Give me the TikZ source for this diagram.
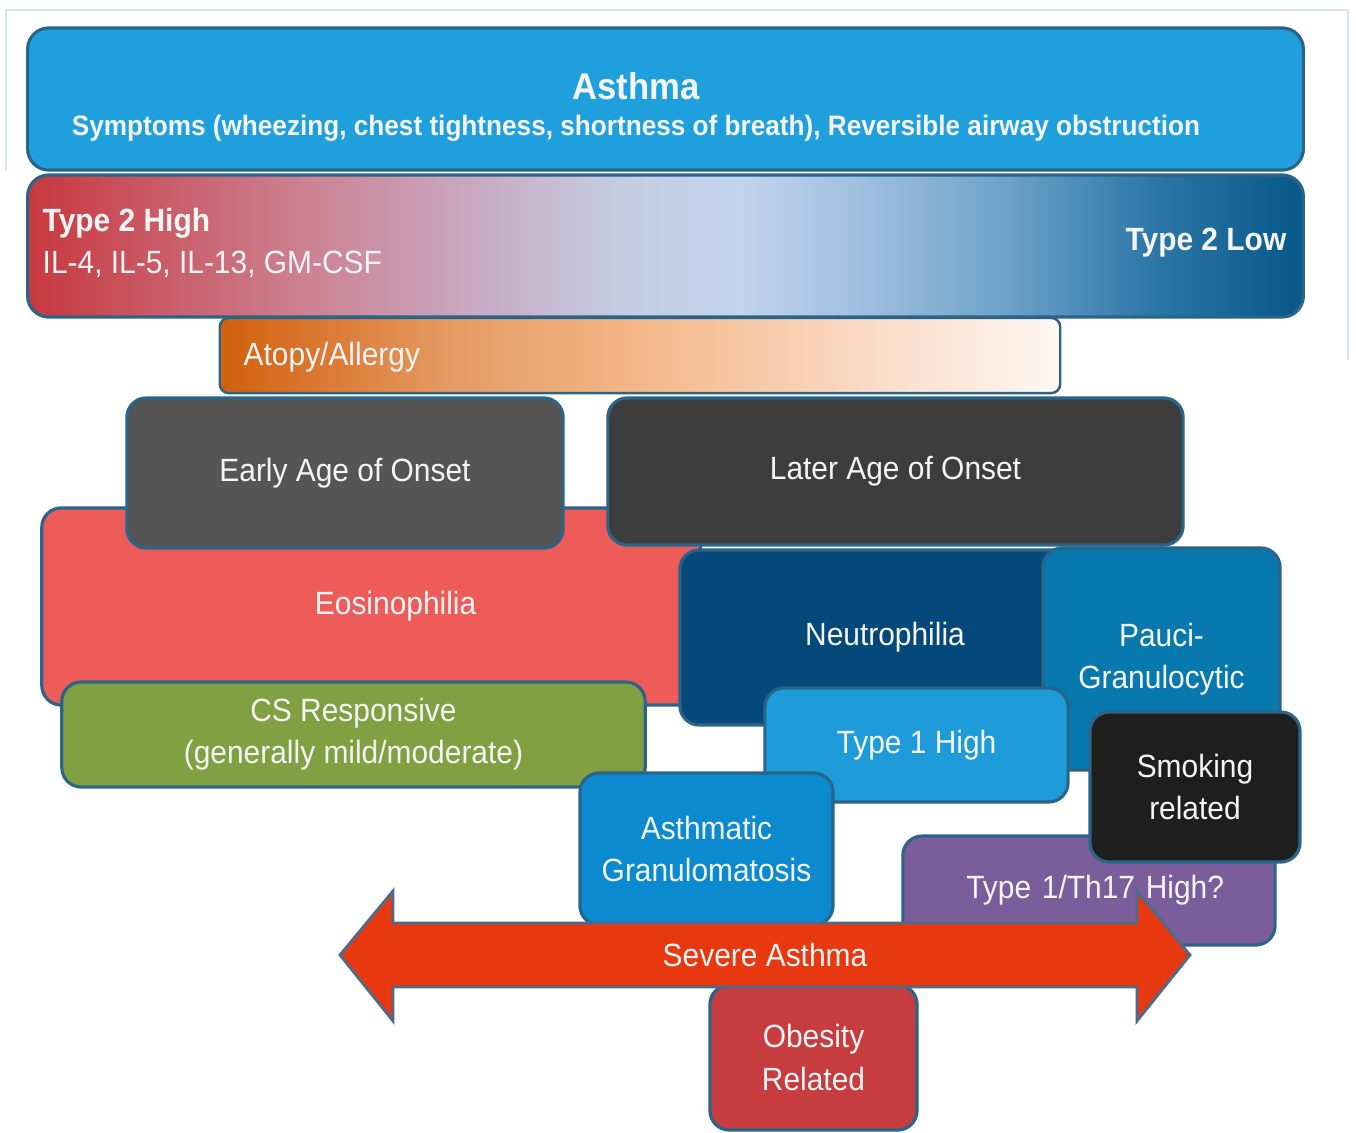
\documentclass[tikz,border=0pt]{standalone}
\usepackage{fontspec}
\setmainfont{Liberation Sans}[FakeStretch=0.93]
\usetikzlibrary{positioning}

\definecolor{edgeblue}{HTML}{2A6489}
\definecolor{framecol}{HTML}{D3E7F2}
\definecolor{asthmablue}{HTML}{1FA0DC}
\definecolor{earlygray}{HTML}{555555}
\definecolor{latergray}{HTML}{3D3D3D}
\definecolor{eosred}{HTML}{EE5C5A}
\definecolor{neutroblue}{HTML}{05487A}
\definecolor{pauciblue}{HTML}{0779AF}
\definecolor{csgreen}{HTML}{80A042}
\definecolor{typeoneblue}{HTML}{1E9CD9}
\definecolor{smokeblack}{HTML}{1E1E1E}
\definecolor{granblue}{HTML}{0B8AD0}
\definecolor{thpurple}{HTML}{7B5D9B}
\definecolor{obesered}{HTML}{C73D3F}
\definecolor{severered}{HTML}{E8380F}
\definecolor{arrowedge}{HTML}{4E6A8A}
\definecolor{boxtext}{HTML}{F4F4F4}

% type 2 high -> type 2 low
\pgfdeclarehorizontalshading{typetwoshade}{100bp}{%
  rgb(0bp)=(0.784,0.220,0.247); rgb(25bp)=(0.784,0.220,0.247);
  rgb(35.7bp)=(0.800,0.502,0.565); rgb(42.3bp)=(0.784,0.659,0.753);
  rgb(48.2bp)=(0.769,0.800,0.886); rgb(52.9bp)=(0.761,0.831,0.933);
  rgb(58.3bp)=(0.604,0.737,0.863); rgb(63.6bp)=(0.416,0.627,0.784);
  rgb(68.9bp)=(0.180,0.470,0.659); rgb(74.5bp)=(0.039,0.353,0.549);
  rgb(100bp)=(0.039,0.353,0.549)}
% atopy/allergy
\pgfdeclarehorizontalshading{atopyshade}{100bp}{%
  rgb(0bp)=(0.816,0.384,0.055); rgb(25.3bp)=(0.816,0.384,0.055);
  rgb(31.5bp)=(0.863,0.478,0.212); rgb(38.5bp)=(0.894,0.604,0.384);
  rgb(51.8bp)=(0.961,0.737,0.565); rgb(62.5bp)=(0.980,0.847,0.761);
  rgb(71.4bp)=(0.992,0.933,0.894); rgb(75bp)=(1,0.973,0.953);
  rgb(100bp)=(1,0.973,0.953)}

\tikzset{
  box/.style={draw=edgeblue, line width=0.9pt, rounded corners=5.5pt,
    inner sep=0pt, align=center, text=boxtext,
    font=\fontsize{9.15}{12}\selectfont},
  lbl/.style={inner sep=0pt, text=boxtext, font=\fontsize{9.15}{12}\selectfont}
}

\begin{document}
\begin{tikzpicture}[x=0.01cm, y=-0.01cm]
\useasboundingbox (0,0) rectangle (1356,1133);
\draw[framecol, line width=0.8pt] (6,170) -- (6,10) -- (1348,10) -- (1348,360);

% top bands
\node[box, fill=asthmablue, rounded corners=6pt, minimum width=12.75cm, minimum height=1.42cm] (asthma) at (665.5,99) {};
\node[lbl, align=center] (asthmalbl) at (636,107)
  {{\fontsize{10.6}{14}\selectfont\bfseries Asthma}\\[-2pt]
   {\fontsize{8}{10}\selectfont\bfseries Symptoms (wheezing, chest tightness, shortness of breath), Reversible airway obstruction}};
\node[box, shading=typetwoshade, rounded corners=6pt, minimum width=12.75cm, minimum height=1.42cm] (typetwo) at (665.5,246) {};
\node[lbl, anchor=west, align=left] (typetwohigh) at (42,243)
  {\bfseries Type 2 High\\ IL-4, IL-5, IL-13, GM-CSF};
\node[lbl, anchor=east, font=\fontsize{9.15}{12}\selectfont\bfseries] (typetwolow) at (1287,243) {Type 2 Low};
\node[box, shading=atopyshade, line width=0.7pt, rounded corners=2.5pt, minimum width=8.4cm, minimum height=0.75cm] (atopy) at (640,355.5) {};
\node[lbl, anchor=west] (atopylbl) at (243,357) {Atopy/Allergy};

% onset and cell types
\node[box, fill=eosred, minimum width=6.58cm, minimum height=1.97cm, text width=6.58cm] (eosin) at (371,606.5) {\hspace*{14pt}Eosinophilia};
\node[box, fill=earlygray, minimum width=4.36cm, minimum height=1.5cm] (early) at (345,473) {Early Age of Onset};
\node[box, fill=latergray, minimum width=5.75cm, minimum height=1.47cm] (later) at (895.5,471.5) {Later Age of Onset};
\node[box, fill=neutroblue, minimum width=4.1cm, minimum height=1.75cm] (neutro) at (885,637.5) {Neutrophilia};
\node[box, fill=pauciblue, minimum width=2.37cm, minimum height=2.22cm] (pauci) at (1161.5,659) {Pauci-\\Granulocytic};
\node[box, fill=csgreen, minimum width=5.83cm, minimum height=1.05cm] (csresp) at (353.5,734.5) {CS Responsive\\(generally mild/moderate)};
\node[box, fill=typeoneblue, minimum width=3.03cm, minimum height=1.14cm] (typeone) at (916.5,745) {Type 1 High};
\node[box, fill=granblue, minimum width=2.53cm, minimum height=1.52cm] (asthgran) at (706.5,849) {Asthmatic\\Granulomatosis};
\node[box, fill=thpurple, minimum width=3.72cm, minimum height=1.09cm, text width=3.72cm] (thseventeen) at (1089,890.5) {\hspace*{3.5pt}Type 1/Th17 High?};
\node[box, fill=smokeblack, minimum width=2.1cm, minimum height=1.5cm] (smoking) at (1195,787) {Smoking\\related};
\node[box, fill=obesered, minimum width=2.07cm, minimum height=1.45cm] (obesity) at (813.5,1057.5) {Obesity\\Related};

% severe asthma double arrow
\draw[arrowedge, line width=0.8pt, fill=severered, line join=miter]
  (340,955) -- (393,891) -- (393,923) -- (1137,923) -- (1137,891) -- (1190,955)
  -- (1137,1021) -- (1137,987) -- (393,987) -- (393,1021) -- cycle;
\node[lbl] (severe) at (765,955) {Severe Asthma};
\end{tikzpicture}
\end{document}
